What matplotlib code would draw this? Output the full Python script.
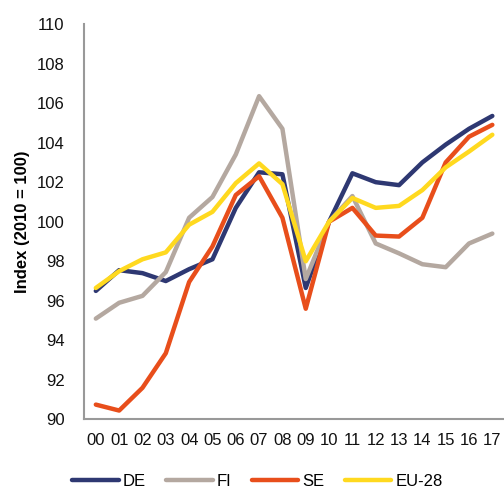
import matplotlib.pyplot as plt
import numpy as np

plt.rcParams['font.family'] = ['Liberation Sans', 'DejaVu Sans']

years = ['00', '01', '02', '03', '04', '05', '06', '07', '08', '09',
         '10', '11', '12', '13', '14', '15', '16', '17']

de = [96.5, 97.55, 97.4, 97.0, 97.6, 98.1, 100.7, 102.5, 102.4, 96.65,
      100.0, 102.45, 102.0, 101.85, 103.0, 103.9, 104.7, 105.35]
fi = [95.1, 95.9, 96.25, 97.45, 100.2, 101.25, 103.4, 106.35, 104.7, 97.1,
      100.0, 101.3, 98.9, 98.4, 97.85, 97.7, 98.9, 99.4]
se = [90.75, 90.45, 91.6, 93.35, 96.95, 98.75, 101.35, 102.3, 100.2, 95.6,
      100.0, 100.7, 99.3, 99.25, 100.2, 103.0, 104.3, 104.9]
eu = [96.65, 97.5, 98.1, 98.45, 99.85, 100.5, 101.95, 102.95, 101.9, 98.0,
      100.0, 101.2, 100.7, 100.8, 101.6, 102.75, 103.55, 104.4]

series = [('DE', de, '#2e3872'), ('FI', fi, '#b4a8a0'),
          ('SE', se, '#e84e1b'), ('EU-28', eu, '#ffd91f')]

fig = plt.figure(figsize=(5.04, 4.9), dpi=100)
ax = fig.add_axes([0.167, 0.144, 0.833, 0.807])

x = np.arange(len(years))
for name, vals, col in series:
    ax.plot(x, vals, color=col, lw=3.2, label=name, solid_capstyle='round')

ax.set_xlim(-0.5, len(years) - 0.5)
ax.set_ylim(90, 110)
ax.set_yticks(np.arange(90, 111, 2))
ax.set_xticks(x)
ax.set_xticklabels(years)
ax.tick_params(length=0, labelsize=12, colors='#111111')
ax.tick_params(axis='x', pad=10)
ax.tick_params(axis='y', pad=14)
for s in ['top', 'right']:
    ax.spines[s].set_visible(False)
for s in ['left', 'bottom']:
    ax.spines[s].set_color('#999999')
    ax.spines[s].set_linewidth(1.5)

ax.set_ylabel('Index (2010 = 100)', fontsize=12, fontweight='bold', labelpad=5)

fig.legend(loc='center', bbox_to_anchor=(0.511, 0.018), ncol=4, frameon=False,
           fontsize=12, handlelength=2.8, columnspacing=1.2, handletextpad=0.25)

fig.savefig('out.png', dpi=100)
